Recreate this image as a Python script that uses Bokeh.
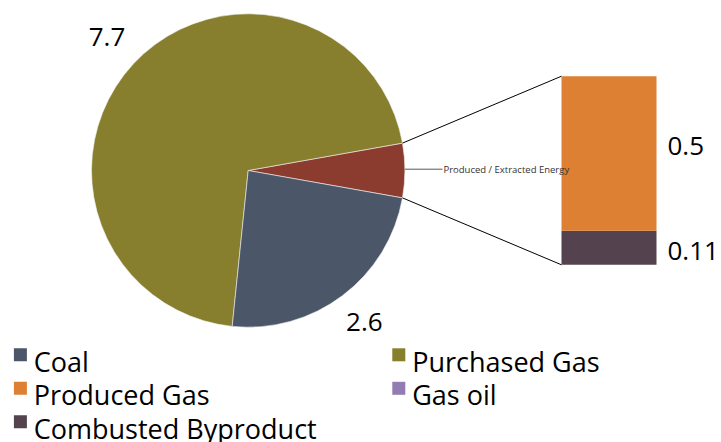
import numpy as np
from bokeh.plotting import figure
from bokeh.models import Range1d
from bokeh.core.properties import value
from bokeh.embed import file_html
from bokeh.resources import INLINE

# ---- data -------------------------------------------------------------
pie_labels = ["Produced / Extracted Energy", "Purchased Gas", "Coal"]
pie_values = [0.61, 7.7, 2.6]
pie_colors = ["#8B3C2E", "#877F2D", "#4B5769"]

bar_labels = ["Combusted Byproduct", "Produced Gas"]
bar_values = [0.11, 0.5]
bar_colors = ["#54434F", "#DD8034"]

legend_labels = ["Coal", "Purchased Gas", "Produced Gas", "Gas oil", "Combusted Byproduct"]
legend_colors = ["#4B5769", "#877F2D", "#DD8034", "#937CB1", "#54434F"]

# ---- canvas -----------------------------------------------------------
W, H = 721, 442
FONT = value("Open Sans")

p = figure(width=W, height=H, output_backend="svg", toolbar_location=None,
           x_range=Range1d(0, W), y_range=Range1d(0, H), min_border=0,
           background_fill_color="white", border_fill_color="white")
p.axis.visible = False
p.grid.visible = False
p.outline_line_color = None

# ---- pie ----------------------------------------------------------------
cx, cy, r = 247.7, H - 170.0, 156.7
vals = np.array(pie_values, dtype=float)
ang = vals / vals.sum() * 2 * np.pi
start = -ang[0] / 2 + np.concatenate([[0.0], np.cumsum(ang)[:-1]])
end = start + ang
p.wedge(x=cx, y=cy, radius=r, start_angle=list(start), end_angle=list(end),
        fill_color=pie_colors, line_color="#F2F2F2", line_width=0.6)

# value labels outside the big slices
mid = (start + end) / 2
lab_r = 1.23 * r
p.text(x=[cx + lab_r * np.cos(m) for m in mid[1:]],
       y=[cy + lab_r * np.sin(m) + 2 for m in mid[1:]],
       text=[f"{v:g}" for v in pie_values[1:]],
       text_font=FONT, text_font_size=value("26px"), text_color="black",
       text_align="center", text_baseline="middle")

# ---- stacked bar for the split slice -----------------------------------
bx0, bx1 = 561.0, 656.0
scale = 188.6 / sum(bar_values)
bvals = np.array(bar_values, dtype=float) * scale
b_bottom = cy - bvals.sum() / 2
bottoms = b_bottom + np.concatenate([[0.0], np.cumsum(bvals)[:-1]])
tops = bottoms + bvals
p.quad(left=bx0, right=bx1, bottom=list(bottoms), top=list(tops),
       fill_color=bar_colors, line_color=None)

# connector lines from slice edges to bar corners
p.segment(x0=[cx + r * np.cos(ang[0] / 2), cx + r * np.cos(-ang[0] / 2)],
          y0=[cy + r * np.sin(ang[0] / 2), cy + r * np.sin(-ang[0] / 2)],
          x1=[bx0, bx0], y1=[tops[-1], bottoms[0]],
          line_color="black", line_width=1)

# leader + small label for the split-out slice (drawn over the bar)
lead_y = cy + 1.3
p.line(x=[cx + r, 442], y=[lead_y, lead_y], line_color="#595959", line_width=1)
p.text(x=[443], y=[lead_y], text=[pie_labels[0]], text_font=FONT,
       text_font_size=value("9.5px"), text_color="#333333",
       text_align="left", text_baseline="middle")

# bar value labels
bar_lab_y = [(bottoms[0] + tops[0]) / 2 - 3, (bottoms[1] + tops[1]) / 2 + 7.5]
p.text(x=[bx1 + 11, bx1 + 11], y=bar_lab_y, text=[f"{v:g}" for v in bar_values],
       text_font=FONT, text_font_size=value("26px"), text_color="black",
       text_align="left", text_baseline="middle")

# ---- legend -------------------------------------------------------------
col_sq = [19.9, 398.3]
col_tx = [33.3, 411.7]
row_base = [370.7, 404.2, 437.7]
sq_x, sq_y, tx_x, tx_y = [], [], [], []
for i, _ in enumerate(legend_labels):
    row, col = divmod(i, 2)
    sq_x.append(col_sq[col])
    sq_y.append(H - (row_base[row] - 16.4))
    tx_x.append(col_tx[col])
    tx_y.append(H - (row_base[row] - 10))
p.rect(x=sq_x, y=sq_y, width=13, height=13, fill_color=legend_colors, line_color=None)
p.text(x=tx_x, y=tx_y, text=legend_labels, text_font=FONT,
       text_font_size=value("27px"), text_color="black",
       text_align="left", text_baseline="middle")

open("out.html", "w").write(file_html(p, INLINE))
